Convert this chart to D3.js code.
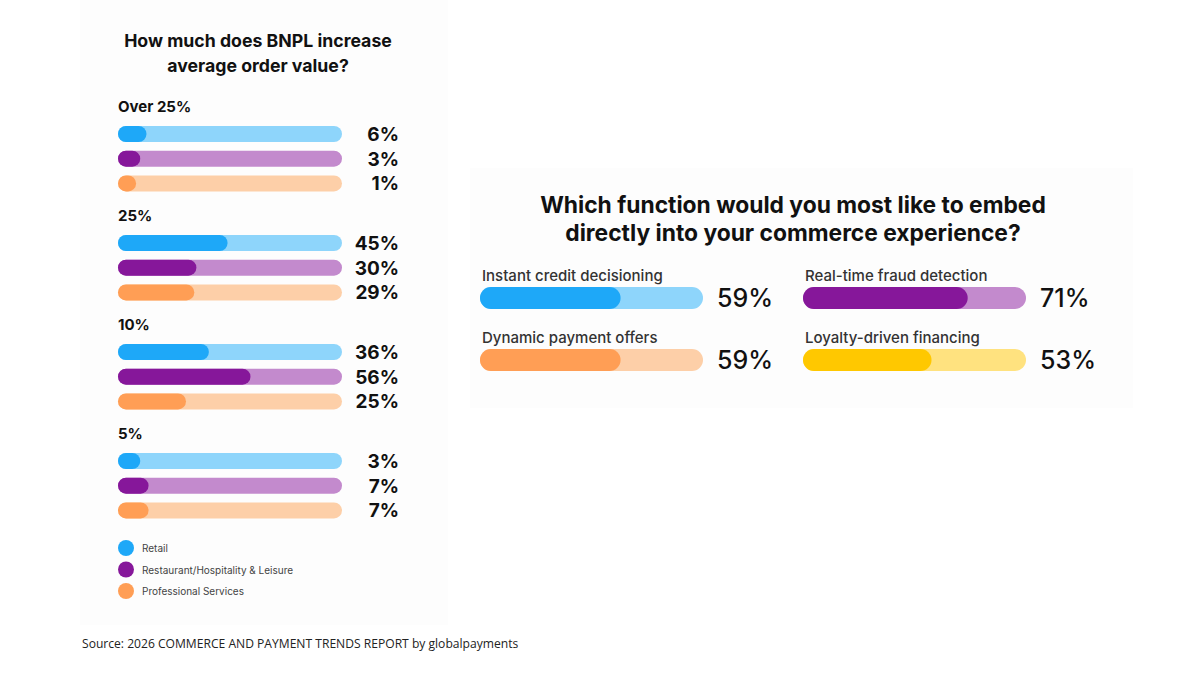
<!DOCTYPE html>
<html>
<head>
<meta charset="utf-8">
<script src="https://cdn.jsdelivr.net/npm/d3@7"></script>
<style>
  body { margin: 0; background: #fff; }
  svg { display: block; font-family: Inter, "Noto Sans", sans-serif; }
</style>
</head>
<body>
<div id="chart"></div>
<script>
// left chart data
const bands = ["Over 25%", "25%", "10%", "5%"];
const sectors = ["Retail", "Restaurant/Hospitality & Leisure", "Professional Services"];
const retail = [6, 45, 36, 3];
const restaurant = [3, 30, 56, 7];
const professional = [1, 29, 25, 7];

// right chart data
const functions = ["Instant credit decisioning", "Real-time fraud detection", "Dynamic payment offers", "Loyalty-driven financing"];
const functionShare = [59, 71, 59, 53];

const dark = ["#1ea8f8", "#86179a", "#ff9e55", "#ffc800"];
const light = ["#8ed5fb", "#c38acd", "#fdcfa8", "#ffe27f"];

const svg = d3.select("#chart").append("svg")
  .attr("width", 1200)
  .attr("height", 675);

// faint panels
svg.append("rect").attr("x", 80).attr("y", 0).attr("width", 368).attr("height", 625).attr("fill", "#fdfdfd");
svg.append("rect").attr("x", 470).attr("y", 168).attr("width", 663).attr("height", 240).attr("fill", "#fdfdfd");

// LEFT
const left = svg.append("g");
left.append("text").attr("x", 258).attr("y", 47).attr("text-anchor", "middle")
  .attr("font-size", 17.7).attr("font-weight", 700).attr("fill", "#111")
  .text("How much does BNPL increase");
left.append("text").attr("x", 258).attr("y", 72).attr("text-anchor", "middle")
  .attr("font-size", 17.7).attr("font-weight", 700).attr("fill", "#111")
  .text("average order value?");

const series = [retail, restaurant, professional];
const barH = 16;
const trackX = 118, trackW = 224;
const groupY = d3.scaleLinear().domain([0, bands.length - 1]).range([134, 461]);
const rowStep = 24.7;
const fillW = d3.scaleLinear().domain([0, 100]).range([barH, trackW]);

bands.forEach((b, gi) => {
  const g = left.append("g");
  g.append("text").attr("x", 118).attr("y", groupY(gi) - 22)
    .attr("font-size", 15).attr("font-weight", 700).attr("fill", "#111").text(b);

  const rows = g.selectAll("g.row")
    .data(series.map((s, si) => ({ v: s[gi], si })))
    .enter().append("g").attr("class", "row")
    .attr("transform", d => `translate(0, ${groupY(gi) + d.si * rowStep})`);

  rows.append("rect").attr("x", trackX).attr("y", -barH / 2)
    .attr("width", trackW).attr("height", barH).attr("rx", barH / 2)
    .attr("fill", d => light[d.si]);
  rows.append("rect").attr("x", trackX).attr("y", -barH / 2)
    .attr("width", d => fillW(d.v)).attr("height", barH).attr("rx", barH / 2)
    .attr("fill", d => dark[d.si]);
  rows.append("text").attr("x", 399).attr("y", 7).attr("text-anchor", "end")
    .attr("font-size", 19).attr("font-weight", 700).attr("fill", "#111")
    .text(d => d.v + "%");
});

// legend
const legend = left.selectAll("g.leg").data(sectors).enter().append("g")
  .attr("transform", (d, i) => `translate(126, ${548 + i * 21.5})`);
legend.append("circle").attr("r", 8).attr("fill", (d, i) => dark[i]);
legend.append("text").attr("x", 16).attr("y", 4).attr("font-size", 10)
  .attr("fill", "#444").text(d => d);

// RIGHT
const right = svg.append("g");
right.append("text").attr("x", 793).attr("y", 213).attr("text-anchor", "middle")
  .attr("font-size", 22.8).attr("font-weight", 700).attr("fill", "#111")
  .text("Which function would you most like to embed");
right.append("text").attr("x", 793).attr("y", 241).attr("text-anchor", "middle")
  .attr("font-size", 22.8).attr("font-weight", 700).attr("fill", "#111")
  .text("directly into your commerce experience?");

const rH = 22, rW = 223;
const colX = d3.scalePoint().domain([0, 1]).range([480, 803]);
const rowY = d3.scalePoint().domain([0, 1]).range([298, 360]);
const rFill = d3.scaleLinear().domain([0, 100]).range([rH, rW]);

const items = right.selectAll("g.item")
  .data(functions.map((f, i) => ({ f, v: functionShare[i], i })))
  .enter().append("g")
  .attr("transform", d => `translate(${colX(d.i % 2)}, ${rowY(Math.floor(d.i / 2))})`);

items.append("text").attr("x", 2).attr("y", -17).attr("font-size", 15)
  .attr("font-weight", 500).attr("fill", "#333").text(d => d.f);
items.append("rect").attr("y", -rH / 2).attr("width", rW).attr("height", rH)
  .attr("rx", rH / 2).attr("fill", d => light[d.i]);
items.append("rect").attr("y", -rH / 2).attr("width", d => rFill(d.v)).attr("height", rH)
  .attr("rx", rH / 2).attr("fill", d => dark[d.i]);
items.append("text").attr("x", 237).attr("y", 9).attr("font-size", 25)
  .attr("font-weight", 500).attr("fill", "#111").text(d => d.v + "%");

// source
svg.append("text").attr("x", 82).attr("y", 648)
  .style("font-family", "'Open Sans', sans-serif")
  .attr("font-size", 12.1).attr("fill", "#222")
  .text("Source: 2026 COMMERCE AND PAYMENT TRENDS REPORT by globalpayments");
</script>
</body>
</html>
